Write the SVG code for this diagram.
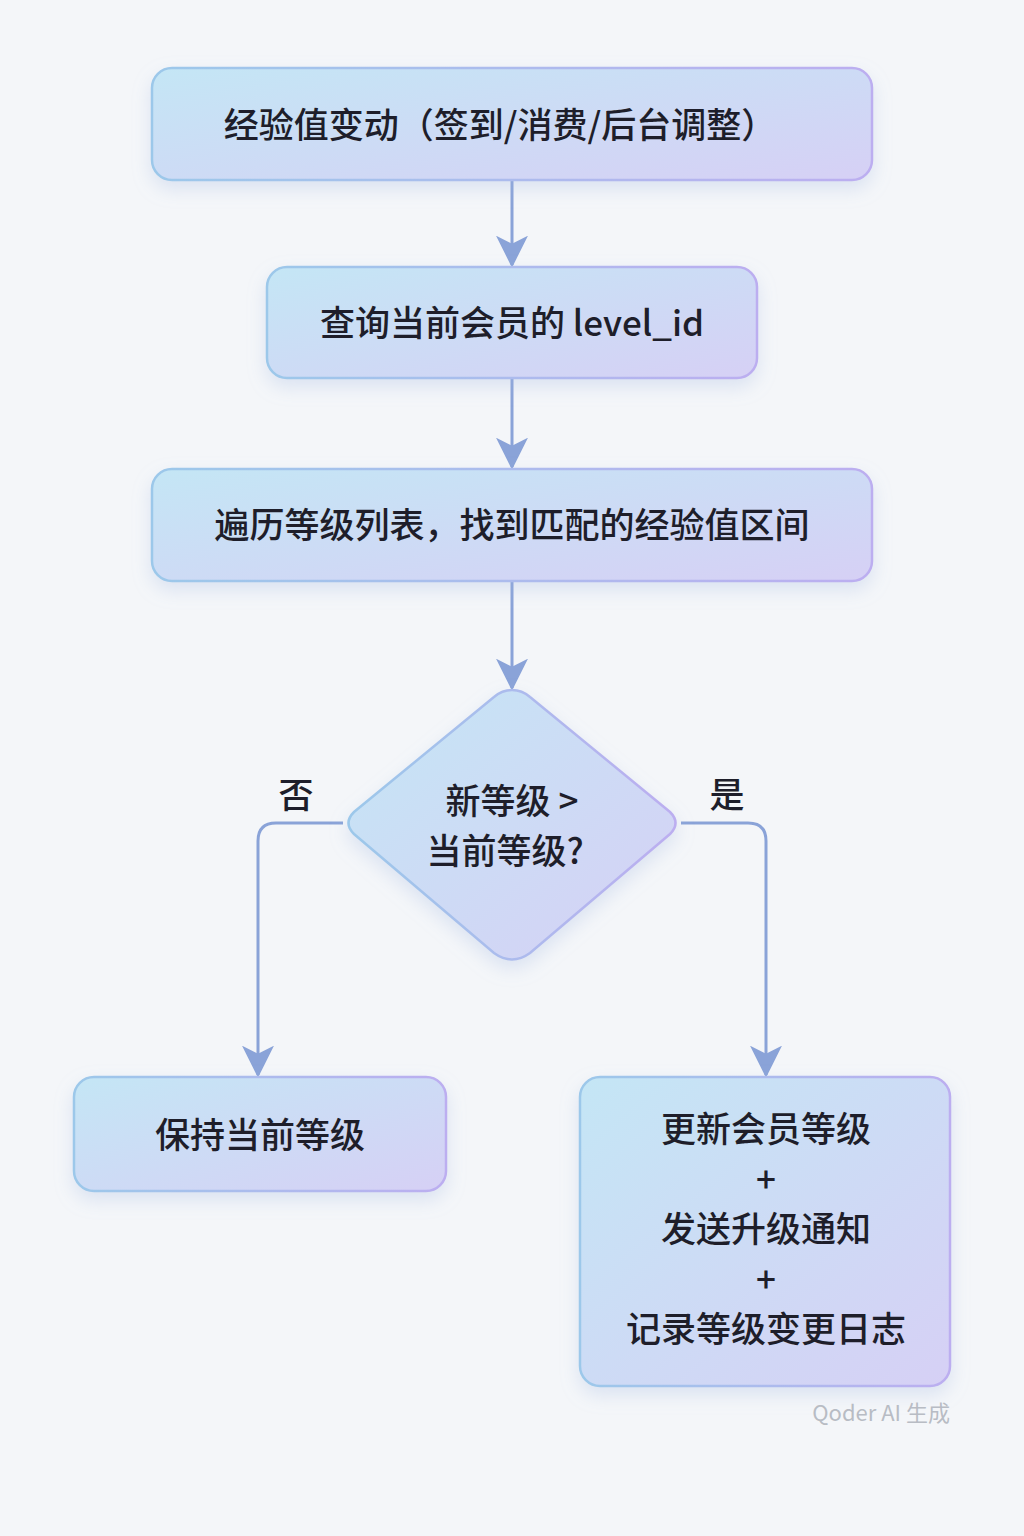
<svg xmlns="http://www.w3.org/2000/svg" width="1024" height="1536" viewBox="0 0 1024 1536">
<defs>
<linearGradient id="g" x1="0" y1="0" x2="1" y2="1">
<stop offset="0" stop-color="#c4e6f5"/><stop offset="1" stop-color="#d6d0f5"/>
</linearGradient>
<linearGradient id="gs" x1="0" y1="0" x2="1" y2="0">
<stop offset="0" stop-color="#9cc8ea"/><stop offset="1" stop-color="#bcaef0"/>
</linearGradient>
<filter id="sh" x="-20%" y="-30%" width="140%" height="170%">
<feDropShadow dx="0" dy="8" stdDeviation="9" flood-color="#9fb6e0" flood-opacity="0.3"/>
</filter>
<marker id="ah" viewBox="0 0 10 10" refX="9" refY="5" markerWidth="9" markerHeight="9" markerUnits="userSpaceOnUse" orient="auto">
<path d="M0,0 L10,5 L0,10 Z" fill="#8aa3d8"/>
</marker>
<marker id="a" viewBox="0 0 12 12" refX="11" refY="6" markerWidth="32" markerHeight="32" markerUnits="userSpaceOnUse" orient="auto">
<path d="M0,0 L12,6 L0,12 L3,6 Z" fill="#8aa3d8"/>
</marker>
</defs>
<style>
.n{fill:url(#g);stroke:url(#gs);stroke-width:2.5;filter:url(#sh)}
.t{font-family:"Noto Sans CJK SC","Noto Sans",sans-serif;font-size:35px;fill:#1e1e2a;text-anchor:middle;font-weight:500}
.l{fill:none;stroke:#8aa3d8;stroke-width:3;marker-end:url(#a)}
</style>
<rect width="1024" height="1536" fill="#f4f6f9"/>
<g id="connectors">
<path class="l" d="M512,180 V265"/>
<path class="l" d="M512,378 V467"/>
<path class="l" d="M512,581 V688"/>
<path class="l" d="M343,823 H276 Q258,823 258,841 V1075"/>
<path class="l" d="M681,823 H748 Q766,823 766,841 V1075"/>
<text class="t" x="296" y="808" font-size="34">否</text>
<text class="t" x="727" y="808" font-size="34">是</text>
</g>
<g id="n1"><rect class="n" x="152" y="68" width="720" height="112" rx="20"/><text class="t" x="500" y="138">经验值变动（签到/消费/后台调整）</text></g>
<g id="n2"><rect class="n" x="267" y="267" width="490" height="111" rx="20"/><text class="t" x="512" y="336">查询当前会员的 level_id</text></g>
<g id="n3"><rect class="n" x="152" y="469" width="720" height="112" rx="20"/><text class="t" x="512" y="538">遍历等级列表，找到匹配的经验值区间</text></g>
<g id="d"><path class="n" d="M512,690 Q522,690 530,697 L670,812 Q681,823 670,834 L530,953 Q512,966 494,953 L354,834 Q343,823 354,812 L494,697 Q502,690 512,690 Z"/><text class="t" x="512" y="814">新等级 &gt;</text><text class="t" x="505" y="864">当前等级?</text></g>
<g id="n4"><rect class="n" x="74" y="1077" width="372" height="114" rx="20"/><text class="t" x="260" y="1148">保持当前等级</text></g>
<g id="n5"><rect class="n" x="580" y="1077" width="370" height="309" rx="20"/>
<text class="t" x="766" y="1142">更新会员等级</text><text class="t" x="766" y="1192">+</text><text class="t" x="766" y="1242">发送升级通知</text><text class="t" x="766" y="1292">+</text><text class="t" x="766" y="1342">记录等级变更日志</text></g>
<text x="950" y="1421" font-family="Noto Sans CJK SC,Noto Sans,sans-serif" font-size="22" fill="#b8bcc4" text-anchor="end">Qoder AI 生成</text>
</svg>
